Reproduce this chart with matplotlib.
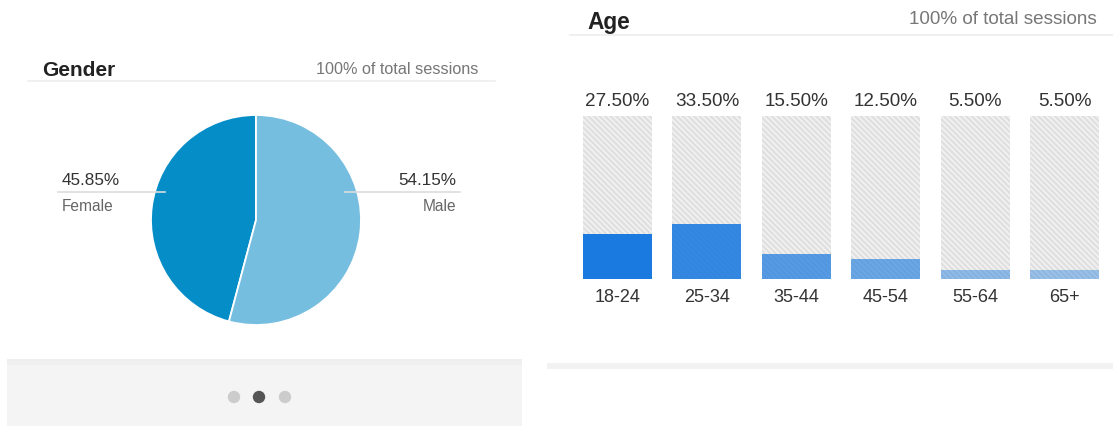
import matplotlib
matplotlib.use("Agg")
import matplotlib.pyplot as plt
from matplotlib.patches import Rectangle, Circle

plt.rcParams['font.family'] = ['Liberation Sans', 'DejaVu Sans']
plt.rcParams['hatch.linewidth'] = 1.8

# data
gender_labels = ['Female', 'Male']
gender_share = [45.85, 54.15]
age_groups = ['18-24', '25-34', '35-44', '45-54', '55-64', '65+']
age_share = [27.5, 33.5, 15.5, 12.5, 5.5, 5.5]

W, H = 1113, 427
fig = plt.figure(figsize=(W / 100, H / 100), dpi=100)
fig.patch.set_facecolor('white')


def px_axes(x0, y0, x1, y1):
    # axes from pixel box (top-down y)
    return fig.add_axes([x0 / W, (H - y1) / H, (x1 - x0) / W, (y1 - y0) / H])


# background axes in pixel coords
bg = fig.add_axes([0, 0, 1, 1])
bg.set_xlim(0, W)
bg.set_ylim(H, 0)
bg.axis('off')

# ---- Gender panel ----
bg.text(42, 70, 'Gender', fontsize=15, fontweight='bold', color='#222222', va='center')
bg.text(478, 69, '100% of total sessions', fontsize=11.7, color='#777777', va='center', ha='right')
bg.plot([28, 495], [82, 82], color='#eeeeee', lw=1.2)

bg.add_patch(Rectangle((7, 360), 515, 67, facecolor='#f4f4f4', edgecolor='none'))
bg.add_patch(Rectangle((7, 360), 515, 6, facecolor='#efefef', edgecolor='none'))
for x, c in zip([234, 259, 285], ['#cccccc', '#555555', '#cccccc']):
    bg.add_patch(Circle((x, 398), 6.2, facecolor=c, edgecolor='none'))

ax_pie = px_axes(151, 116, 361, 326)
ax_pie.pie(gender_share, startangle=90, colors=['#058DC7', '#76BEE0'],
           wedgeprops=dict(edgecolor='white', linewidth=1.3))
ax_pie.set_xlim(-1, 1)
ax_pie.set_ylim(-1, 1)
ax_pie.set_aspect('auto')
ax_pie.axis('off')

# pie callouts, drawn over the pie
over = fig.add_axes([0, 0, 1, 1])
over.set_xlim(0, W)
over.set_ylim(H, 0)
over.axis('off')
over.patch.set_alpha(0)
over.plot([58, 165], [193, 193], color='#dddddd', lw=1.2)
over.plot([345, 460], [193, 193], color='#dddddd', lw=1.2)
over.text(62, 181, '%.2f%%' % gender_share[0], fontsize=12.3, color='#333333', va='center', ha='left')
over.text(62, 207, gender_labels[0], fontsize=11.2, color='#666666', va='center', ha='left')
over.text(456, 181, '%.2f%%' % gender_share[1], fontsize=12.3, color='#333333', va='center', ha='right')
over.text(456, 207, gender_labels[1], fontsize=11.2, color='#666666', va='center', ha='right')

# ---- Age panel ----
bg.text(587, 23, 'Age', fontsize=16.4, fontweight='bold', color='#222222', va='center')
bg.text(1097, 20, '100% of total sessions', fontsize=13.6, color='#777777', va='center', ha='right')
bg.plot([570, 1113], [36, 36], color='#eeeeee', lw=1.2)
bg.add_patch(Rectangle((547, 364), 566, 6, facecolor='#f2f2f2', edgecolor='none'))

ax_bar = px_axes(583, 117, 1099, 280)
bw = 69 / 89.5
xs = list(range(len(age_groups)))
ax_bar.bar(xs, [100] * len(xs), width=bw, color='#f5f5f5', edgecolor='#e0e0e0',
           hatch='\\' * 6, linewidth=0)
alphas = [1.0, 0.88, 0.72, 0.62, 0.45, 0.4]
bars = ax_bar.bar(xs, age_share, width=bw, color='#1A7ADF', linewidth=0)
for b, a in zip(bars, alphas):
    b.set_alpha(a)
ax_bar.set_xlim(-bw / 2, len(xs) - 1 + bw / 2)
ax_bar.set_ylim(0, 100)
ax_bar.axis('off')
for x, v, g in zip(xs, age_share, age_groups):
    ax_bar.text(x, 109.5, '%.2f%%' % v, fontsize=13.6, color='#333333', ha='center', va='center', clip_on=False)
    ax_bar.text(x, -11, g, fontsize=13, color='#333333', ha='center', va='center', clip_on=False)

fig.savefig('out.png', dpi=100, facecolor='white')
